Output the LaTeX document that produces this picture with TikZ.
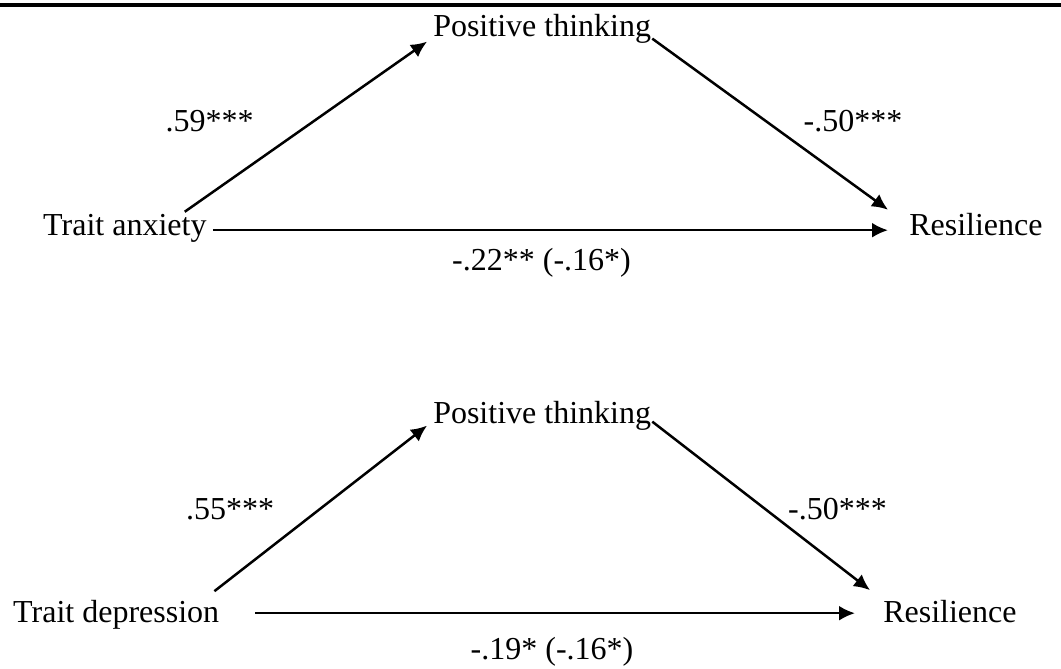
\documentclass[tikz,border=0pt]{standalone}
\usepackage{fontspec}
\setmainfont{Liberation Serif}
\usetikzlibrary{arrows.meta}

\begin{document}
\begin{tikzpicture}[x=0.5pt,y=-0.5pt,line width=1.25pt,>={Latex[length=8pt,width=7.5pt]},
  var/.style={inner xsep=2.5pt,inner ysep=0pt,text height=0.7em,text depth=0.22em,
    font=\fontsize{16}{19}\selectfont},
  coef/.style={var}]
  \useasboundingbox (0,0) rectangle (1061,669);
  \draw[line width=1.6pt] (0,5) -- (1061,5);
  % modelo 1: ansiedad rasgo
  \node[var,anchor=base west] (pt1) at (427,36) {Positive thinking};
  \node[var,anchor=base west] (ta) at (37,235) {Trait anxiety};
  \node[var,anchor=base west] (r1) at (903,235) {Resilience};
  \draw[->] ([xshift=-14pt,yshift=4pt]ta.north east) -- (pt1.south west);
  \draw[->] ([xshift=-2.5pt,yshift=1.5pt]pt1.south east) -- ([xshift=-7.5pt,yshift=5pt]r1.north west);
  \draw[->,shorten >=7.5pt] (ta) -- (r1);
  \node[coef] (a1) at (209.5,127) {.59***};
  \node[coef] (b1) at (853,127) {-.50***};
  \node[coef] (c1) at (541.5,266) {-.22** (-.16*)};
  % modelo 2: depresion rasgo
  \begin{scope}[yshift=-193.5pt]
    \node[var,anchor=base west] (pt2) at (427,36) {Positive thinking};
    \node[var,anchor=base west] (td) at (7,235) {Trait depression};
    \node[var,anchor=base west] (r2) at (877,235) {Resilience};
    \draw[->] ([xshift=-5.5pt,yshift=7.8pt]td.north east) -- ([yshift=1.5pt]pt2.south west);
    \draw[->] ([xshift=-2.5pt,yshift=3.5pt]pt2.south east) -- ([xshift=-3.5pt,yshift=8.3pt]r2.north west);
    \draw[->,shorten <=15pt,shorten >=11pt] ([yshift=2pt]td.east) -- ([yshift=2pt]r2.west);
    \node[coef] (a2) at (230,128) {.55***};
    \node[coef] (b2) at (837.5,128) {-.50***};
    \node[coef] (c2) at (552,268) {-.19* (-.16*)};
  \end{scope}
\end{tikzpicture}
\end{document}
